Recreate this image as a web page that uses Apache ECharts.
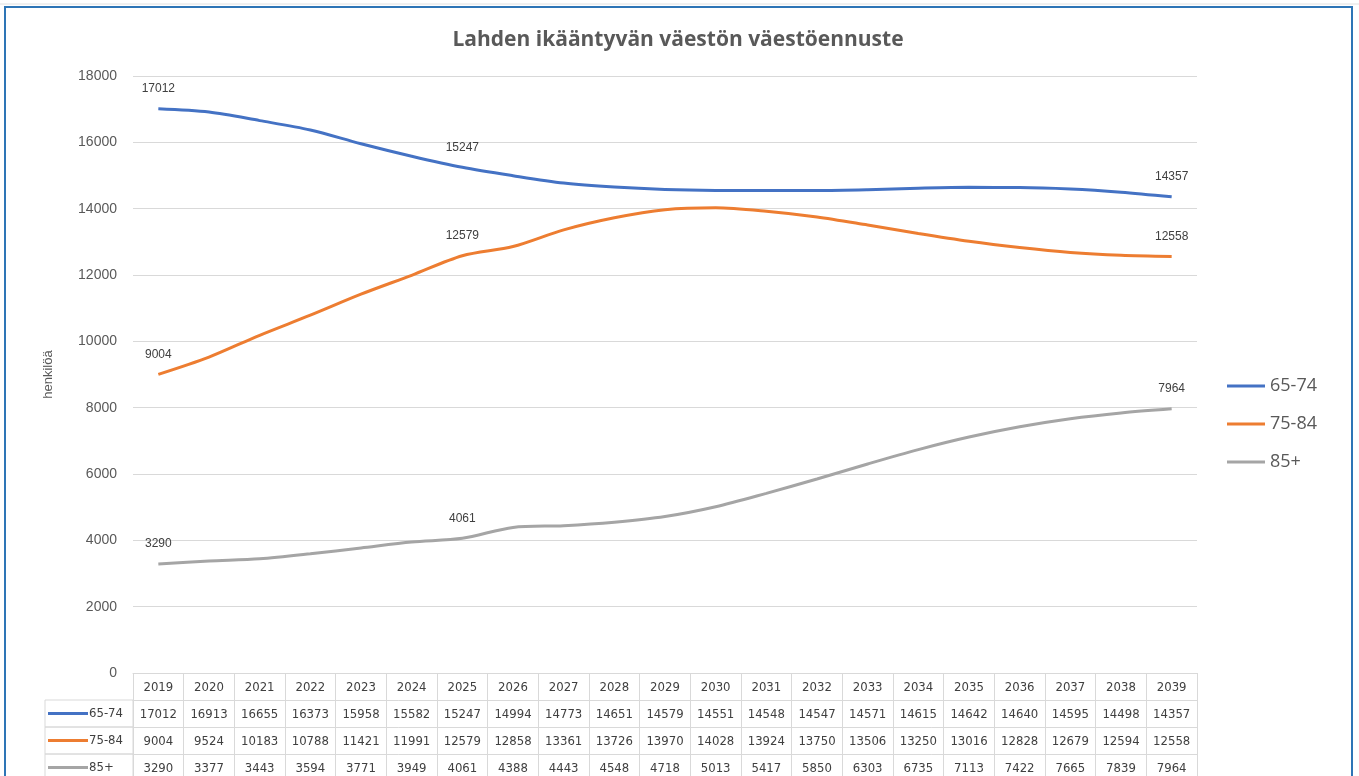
<!DOCTYPE html>
<html>
<head>
<meta charset="utf-8">
<script src="https://cdn.jsdelivr.net/npm/echarts@6/dist/echarts.min.js"></script>
<style>
  html, body { margin: 0; padding: 0; background: #fff; }
  #main { width: 1359px; height: 776px; }
</style>
</head>
<body>
<div id="main"></div>
<script>
// vuodet ja ennusteet
var years = ['2019', '2020', '2021', '2022', '2023', '2024', '2025', '2026', '2027', '2028', '2029',
  '2030', '2031', '2032', '2033', '2034', '2035', '2036', '2037', '2038', '2039'];
var age6574 = [17012, 16913, 16655, 16373, 15958, 15582, 15247, 14994, 14773, 14651, 14579,
  14551, 14548, 14547, 14571, 14615, 14642, 14640, 14595, 14498, 14357];
var age7584 = [9004, 9524, 10183, 10788, 11421, 11991, 12579, 12858, 13361, 13726, 13970,
  14028, 13924, 13750, 13506, 13250, 13016, 12828, 12679, 12594, 12558];
var age85 = [3290, 3377, 3443, 3594, 3771, 3949, 4061, 4388, 4443, 4548, 4718,
  5013, 5417, 5850, 6303, 6735, 7113, 7422, 7665, 7839, 7964];
var seriesNames = ['65-74', '75-84', '85+'];
var labelIdx = [0, 6, 20];

var colors = ['#4472C4', '#ED7D31', '#A5A5A5'];
var rows = [age6574, age7584, age85];
var tableFont = '"Liberation Sans Narrow", "DejaVu Sans Condensed", sans-serif';
var rowH = 27;

var myChart = echarts.init(document.getElementById('main'));

var xAxes = [{
  type: 'category',
  data: years,
  position: 'bottom',
  boundaryGap: true,
  axisLine: { show: true, lineStyle: { color: '#d9d9d9' } },
  axisTick: { show: true, length: rowH, lineStyle: { color: '#d9d9d9' } },
  axisLabel: { color: '#404040', fontSize: 13, fontFamily: tableFont, margin: 8 }
}];
rows.forEach(function (row, i) {
  xAxes.push({
    type: 'category',
    data: years,
    position: 'bottom',
    offset: rowH * (i + 1),
    boundaryGap: true,
    axisLine: { show: true, lineStyle: { color: '#d9d9d9' } },
    axisTick: { show: true, length: rowH, lineStyle: { color: '#d9d9d9' } },
    axisLabel: {
      color: '#404040', fontSize: 13, fontFamily: tableFont, margin: 8,
      formatter: function (v, idx) { return String(row[idx]); }
    }
  });
});

// kehys ja rivien otsikot taulukon vasemmalla
var graphics = [{
  type: 'rect',
  shape: { x: 5, y: 7, width: 1347, height: 800 },
  style: { fill: 'none', stroke: '#2E75B6', lineWidth: 2 }
}, {
  type: 'line',
  shape: { x1: 0, y1: 4, x2: 1359, y2: 4 },
  style: { stroke: '#e0e0e0', lineWidth: 1 }
}];
seriesNames.forEach(function (name, i) {
  var top = 673 + rowH * (i + 1);
  graphics.push({
    type: 'rect',
    shape: { x: 45, y: top, width: 88, height: rowH },
    style: { fill: 'none', stroke: '#d9d9d9', lineWidth: 1 }
  });
  graphics.push({
    type: 'line',
    shape: { x1: 48, y1: top + rowH / 2, x2: 88, y2: top + rowH / 2 },
    style: { stroke: colors[i], lineWidth: 3 }
  });
  graphics.push({
    type: 'text',
    x: 89, y: top + rowH / 2,
    style: { text: name, fill: '#404040', font: '13px ' + tableFont, textVerticalAlign: 'middle' }
  });
});

myChart.setOption({
  color: colors,
  animation: false,
  title: {
    text: 'Lahden ikääntyvän väestön väestöennuste',
    left: 673,
    textAlign: 'center',
    top: 25,
    textStyle: { color: '#595959', fontSize: 21, fontWeight: 'bold', fontFamily: '"Open Sans", sans-serif' }
  },
  legend: {
    orient: 'vertical',
    left: 1222,
    top: 372,
    itemWidth: 38,
    itemHeight: 3,
    itemGap: 20,
    icon: 'rect',
    data: seriesNames,
    textStyle: { color: '#595959', fontSize: 18, fontFamily: '"Open Sans", sans-serif' }
  },
  grid: { left: 133, right: 162, top: 76, bottom: 103, containLabel: false },
  xAxis: xAxes,
  yAxis: {
    type: 'value',
    min: 0,
    max: 18000,
    interval: 2000,
    name: 'henkilöä',
    nameLocation: 'middle',
    nameGap: 78,
    nameTextStyle: { color: '#595959', fontSize: 13 },
    axisLine: { show: false },
    axisTick: { show: false },
    axisLabel: { color: '#595959', fontSize: 14, margin: 16, formatter: function (v) { return String(v); } },
    splitLine: { lineStyle: { color: '#d9d9d9' } }
  },
  series: rows.map(function (row, i) {
    return {
      name: seriesNames[i],
      type: 'line',
      data: row,
      smooth: 0.3,
      showSymbol: true,
      symbol: 'circle',
      symbolSize: 0.1,
      lineStyle: { width: 3, color: colors[i] },
      itemStyle: { color: colors[i] },
      label: {
        show: true,
        position: 'top',
        distance: 14,
        color: '#404040',
        fontSize: 12,
        formatter: function (p) { return labelIdx.indexOf(p.dataIndex) >= 0 ? String(p.value) : ''; }
      }
    };
  }),
  graphic: graphics
});
</script>
</body>
</html>
